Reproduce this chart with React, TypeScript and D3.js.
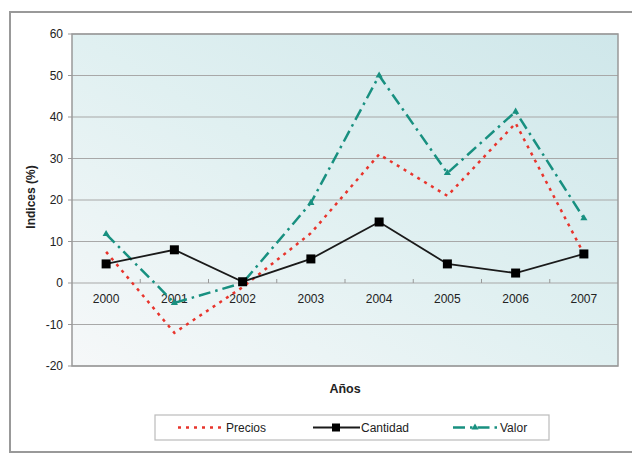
import React from "react";
import * as d3 from "d3";

const years = ["2000", "2001", "2002", "2003", "2004", "2005", "2006", "2007"];
const precios = [7.5, -12, -1, 12, 31, 21, 38.5, 7];
const cantidad = [4.6, 8, 0.3, 5.8, 14.7, 4.6, 2.4, 7];
const valor = [11.8, -4.8, 0, 19.3, 50, 26.5, 41.3, 15.6];
const yTicks = [60, 50, 40, 30, 20, 10, 0, -10, -20];
const seriesNames = ["Precios", "Cantidad", "Valor"];

const W = 632, H = 453;
const L = 72, R = 618, T = 34, B = 366;

export default function App() {
  const x = d3.scaleBand<string>().domain(years).range([L, R]);
  const y = d3.scaleLinear().domain([-20, 60]).range([B, T]);
  const cx = (i: number) => (x(years[i]) as number) + x.bandwidth() / 2;
  const line = d3.line<number>().x((_, i) => cx(i)).y((d) => y(d));
  const font = "Liberation Sans, Arial, sans-serif";
  const red = "#e8342c";
  const teal = "#189080";
  const tri = d3.symbol().type(d3.symbolTriangle).size(22)() as string;
  const fs = 12;

  return (
    <svg width={W} height={H} style={{ position: "absolute", left: 0, top: 0 }} fontFamily={font}>
      <defs>
        <linearGradient id="bg" x1="0" y1="1" x2="1" y2="0">
          <stop offset="0" stopColor="#f6f8f9" />
          <stop offset="0.5" stopColor="#e0f0f1" />
          <stop offset="1" stopColor="#cfe7ea" />
        </linearGradient>
      </defs>
      <rect x={0} y={0} width={W} height={H} fill="#fff" />
      <rect x={10} y={12} width={640} height={440} fill="none" stroke="#999" strokeWidth={2} />
      <rect x={L} y={T} width={R - L} height={B - T} fill="url(#bg)" />
      {yTicks.map((t) => (
        <g key={t}>
          <line x1={L} x2={R} y1={y(t)} y2={y(t)} stroke="#a8a8a8" strokeWidth={1.2} />
          <line x1={L - 4} x2={L} y1={y(t)} y2={y(t)} stroke="#999" />
          <text x={63} y={y(t)} dy="0.35em" textAnchor="end" fontSize={fs} fill="#222">{t}</text>
        </g>
      ))}
      {years.map((yr, i) => (
        <g key={yr}>
          {i > 0 && <line x1={x(yr) as number} x2={x(yr) as number} y1={y(0) - 4} y2={y(0)} stroke="#999" />}
          <text x={cx(i)} y={y(0) + 20} textAnchor="middle" fontSize={fs} fill="#222">{yr}</text>
        </g>
      ))}
      <rect x={L} y={T} width={R - L} height={B - T} fill="none" stroke="#999" strokeWidth={1.5} />
      <path d={line(precios) as string} fill="none" stroke={red} strokeWidth={2.5} strokeDasharray="3,5" />
      <path d={line(valor) as string} fill="none" stroke={teal} strokeWidth={2.5} strokeDasharray="12,5,2.5,5" />
      {valor.map((v, i) => (
        <path key={i} d={tri} transform={`translate(${cx(i)},${y(v)})`} fill={teal} />
      ))}
      <path d={line(cantidad) as string} fill="none" stroke="#1a1a1a" strokeWidth={1.8} />
      {cantidad.map((v, i) => (
        <rect key={i} x={cx(i) - 4.5} y={y(v) - 4.5} width={9} height={9} fill="#000" />
      ))}
      <text x={345} y={393} textAnchor="middle" fontSize={12.5} fontWeight="bold" fill="#222">Años</text>
      <text transform={`translate(35,${(T + B) / 2 - 3}) rotate(-90)`} textAnchor="middle" fontSize={fs} fontWeight="bold" fill="#222">Indices (%)</text>
      <rect x={155} y={415} width={394} height={25} fill="#fff" stroke="#bbb" strokeWidth={1.2} />
      <line x1={178} x2={222} y1={427.5} y2={427.5} stroke={red} strokeWidth={2.5} strokeDasharray="3,5" />
      <text x={226} y={427.5} dy="0.35em" fontSize={fs} fill="#222">{seriesNames[0]}</text>
      <line x1={313} x2={360} y1={427.5} y2={427.5} stroke="#1a1a1a" strokeWidth={1.8} />
      <rect x={332} y={423.5} width={8} height={8} fill="#000" />
      <text x={361} y={427.5} dy="0.35em" fontSize={fs} fill="#222">{seriesNames[1]}</text>
      <line x1={453} x2={497} y1={427.5} y2={427.5} stroke={teal} strokeWidth={2.5} strokeDasharray="12,5,2.5,5" />
      <path d={tri} transform="translate(475,427.5)" fill={teal} />
      <text x={500} y={427.5} dy="0.35em" fontSize={fs} fill="#222">{seriesNames[2]}</text>
    </svg>
  );
}
